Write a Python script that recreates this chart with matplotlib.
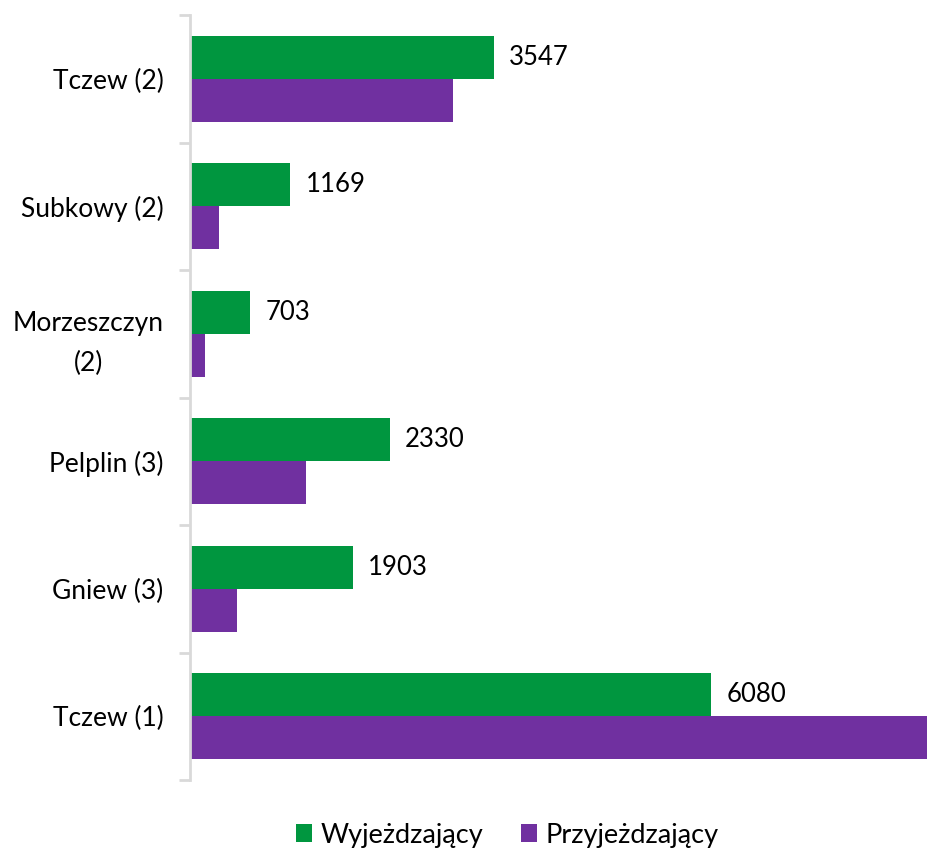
import numpy as np
import matplotlib.pyplot as plt
from matplotlib.ticker import FixedLocator

plt.rcParams['font.family'] = ['Lato', 'DejaVu Sans']

categories = ["Tczew (2)", "Subkowy (2)", "Morzeszczyn\n(2)", "Pelplin (3)", "Gniew (3)", "Tczew (1)"]
wyjezdzajacy = [3547, 1169, 703, 2330, 1903, 6080]
przyjezdzajacy = [3070, 340, 175, 1355, 550, 9000]

green = "#00963f"
purple = "#7030a0"
axis_gray = "#d9d9d9"

fig = plt.figure(figsize=(9.28, 8.5), dpi=100)
ax = fig.add_axes([190 / 928, 1 - 780 / 850, 738 / 928, 765 / 850])

y = np.arange(len(categories))
h = 0.3375

bars_w = ax.barh(y - h / 2, wyjezdzajacy, height=h, color=green, label="Wyjeżdzający")
ax.barh(y + h / 2, przyjezdzajacy, height=h, color=purple, label="Przyjeżdzający")

for b, v in zip(bars_w, wyjezdzajacy):
    ax.annotate(str(v), (b.get_width(), b.get_y() + b.get_height() / 2),
                xytext=(11, 0), textcoords="offset points",
                va="center", ha="left", fontsize=18.5)

ax.set_xlim(0, 8612)
ax.set_ylim(len(categories) - 0.5, -0.5)
ax.set_yticks(y)
ax.set_yticklabels(categories, fontsize=19, ha="right", multialignment="center",
                   linespacing=1.75)
ax.tick_params(axis="y", which="major", length=0, pad=19)
ax.yaxis.set_minor_locator(FixedLocator(np.arange(-0.5, len(categories), 1)))
ax.tick_params(axis="y", which="minor", length=8, width=2, color=axis_gray)
ax.set_xticks([])

for s in ["top", "right", "bottom"]:
    ax.spines[s].set_visible(False)
ax.spines["left"].set_color(axis_gray)
ax.spines["left"].set_linewidth(2)

fig.legend(loc="center", bbox_to_anchor=(507 / 928, 1 - 835 / 850), ncol=2,
           frameon=False, fontsize=19.5, handlelength=0.6, handleheight=0.6,
           handletextpad=0.3, columnspacing=1.4)

fig.savefig("out.png", dpi=100)
